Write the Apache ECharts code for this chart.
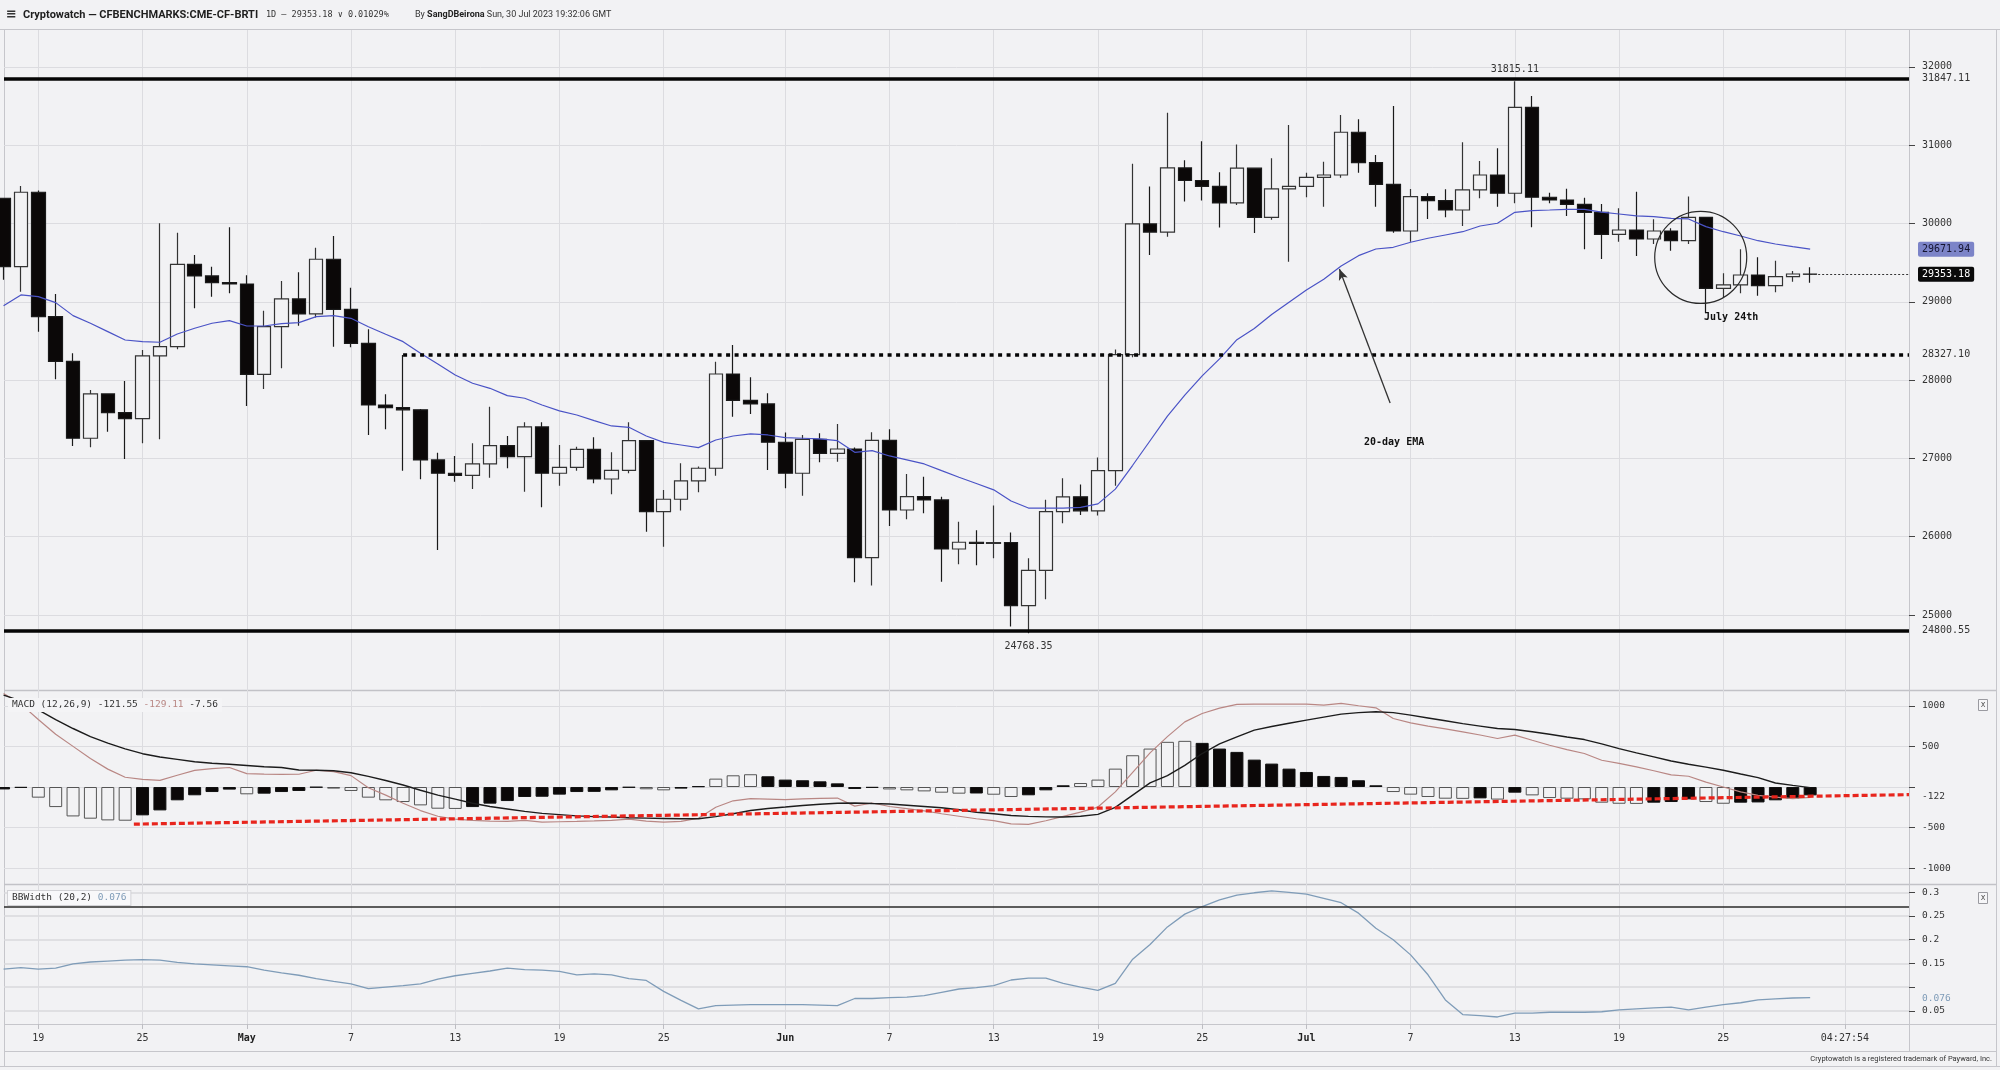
<!DOCTYPE html>
<html>
<head>
<meta charset="utf-8">
<script src="https://cdn.jsdelivr.net/npm/echarts@6/dist/echarts.min.js"></script>
<style>
html,body{margin:0;padding:0;background:#f2f2f4;overflow:hidden}
#chart{width:2000px;height:1070px}
</style>
</head>
<body>
<div id="chart"></div>
<script>
// ---------- DATA ----------
const dates = [
'04-17','04-18','04-19','04-20','04-21','04-22','04-23','04-24','04-25','04-26','04-27','04-28','04-29','04-30',
'05-01','05-02','05-03','05-04','05-05','05-06','05-07','05-08','05-09','05-10','05-11','05-12','05-13','05-14','05-15','05-16',
'05-17','05-18','05-19','05-20','05-21','05-22','05-23','05-24','05-25','05-26','05-27','05-28','05-29','05-30','05-31',
'06-01','06-02','06-03','06-04','06-05','06-06','06-07','06-08','06-09','06-10','06-11','06-12','06-13','06-14','06-15',
'06-16','06-17','06-18','06-19','06-20','06-21','06-22','06-23','06-24','06-25','06-26','06-27','06-28','06-29','06-30',
'07-01','07-02','07-03','07-04','07-05','07-06','07-07','07-08','07-09','07-10','07-11','07-12','07-13','07-14','07-15',
'07-16','07-17','07-18','07-19','07-20','07-21','07-22','07-23','07-24','07-25','07-26','07-27','07-28','07-29','07-30'];

const open = [
30322,29448,30399,28810,28240,27257,27823,27584,27508,28309,28427,29479,29330,29244,
29227,28074,28682,29036,28845,29543,28904,28470,27682,27648,27620,26980,26810,26784,26929,27162,
27022,27402,26810,26886,27116,26737,26848,27226,26320,26478,26712,26874,28078,27742,27695,
27206,26810,27244,27065,27120,25732,27230,26341,26511,26469,25843,25929,25913,25926,25120,
25569,26321,26509,26330,26844,28324,29994,29890,30710,30549,30473,30263,30706,30079,30442,
30475,30590,30619,31165,30777,30500,29904,30342,30291,30172,30428,30619,30386,31484,30335,
30300,30245,30143,29862,29917,29802,29904,29780,30079,29172,29215,29342,29206,29321,29355];
const close = [
29448,30399,28810,28240,27257,27823,27584,27508,28309,28427,29479,29330,29244,29227,
28074,28682,29036,28845,29543,28904,28470,27682,27648,27620,26980,26810,26784,26929,27162,27022,
27402,26810,26886,27116,26737,26848,27226,26320,26478,26712,26874,28078,27742,27695,27206,
26810,27244,27065,27120,25732,27230,26341,26511,26469,25843,25929,25913,25926,25120,25569,
26321,26509,26330,26844,28324,29994,29890,30710,30549,30473,30263,30706,30079,30442,30475,
30590,30619,31165,30777,30500,29904,30342,30291,30172,30428,30619,30386,31484,30335,30300,
30245,30143,29862,29917,29802,29904,29780,30079,29172,29215,29342,29206,29321,29355,29353.18];
const high = [
30330,30479,30420,29100,28342,27874,27830,27989,28385,30003,29883,29598,29448,29952,
29338,28887,29266,29377,29691,29840,29180,28649,27819,28321,27630,27073,27031,27193,27661,27287,
27462,27462,27171,27150,27270,27078,27462,27230,26597,26938,26895,28235,28449,28036,27832,
27329,27299,27321,27440,27140,27333,27372,26801,26766,26511,26192,26083,26397,26052,25725,
26473,26746,26666,27010,28390,30764,30473,31414,30808,31051,30653,31010,30715,30832,31258,
30649,30789,31386,31331,30875,31501,30441,30386,30437,31037,30798,30960,31815.11,31628,30394,
30445,30330,30249,30194,30406,30054,29939,30343,30087,29364,29671,29569,29525,29393,29440];
const low = [
29280,29129,28618,28010,27158,27142,27341,26992,27193,27244,28393,28917,29065,29109,
27670,27887,28151,28695,28800,28427,28420,27299,27372,26843,26733,25830,26703,26609,26754,26874,
26575,26375,26652,26843,26682,26542,26810,26064,25872,26333,26567,26779,27533,27567,26852,
26618,26524,26950,26958,25418,25375,26137,26222,26299,25426,25648,25635,25725,24852,24768.35,
25200,26173,26276,26271,26652,28291,29599,29832,30281,30294,29949,30236,29877,30047,29512,
30335,30215,30585,30649,30215,29883,29768,30058,30079,29968,30322,30215,30258,29952,30258,
30096,29671,29547,29768,29585,29738,29653,29738,28853,29057,29108,29078,29121,29257,29244];

const ema20 = [
28950,29087,29066,28989,28823,28726,28619,28512,28491,28483,28589,28662,28726,28759,
28691,28691,28720,28733,28810,28823,28789,28682,28585,28491,28342,28206,28065,27959,27895,27801,
27768,27682,27606,27554,27482,27414,27397,27286,27205,27171,27137,27235,27286,27312,27299,
27265,27257,27248,27226,27078,27099,27031,26980,26929,26843,26759,26680,26598,26455,26366,
26366,26366,26374,26419,26607,26912,27225,27539,27807,28054,28270,28516,28659,28838,28995,
29151,29288,29457,29589,29674,29696,29760,29811,29853,29895,29968,30003,30143,30164,30172,
30181,30181,30145,30121,30096,30087,30066,30058,29960,29895,29840,29780,29738,29704,29672];

const macdLine = [
1150,1020,830,650,500,350,220,120,95,82,145,205,225,240,
165,158,155,157,206,190,140,-10,-100,-200,-290,-360,-395,-411,-420,-424,
-411,-432,-428,-424,-418,-411,-395,-420,-432,-424,-385,-250,-170,-144,-150,
-156,-145,-140,-136,-235,-197,-240,-267,-295,-329,-360,-391,-415,-453,-461,
-415,-362,-310,-247,-60,180,420,620,802,905,970,1016,1020,1020,1020,
1020,1008,1029,1000,975,843,790,749,715,679,640,597,638,575,514,
460,412,329,290,247,200,150,132,60,0,-60,-103,-125,-144,-127];
const signalLine = [
1130,1060,950,830,720,620,540,470,410,370,340,310,292,280,
265,250,240,210,206,200,175,130,80,25,-40,-100,-150,-200,-240,-270,
-300,-325,-340,-355,-365,-370,-378,-383,-387,-391,-391,-365,-330,-290,-265,
-247,-228,-212,-200,-197,-204,-210,-225,-240,-255,-280,-310,-330,-350,-362,
-368,-370,-360,-337,-250,-100,50,140,266,412,530,617,700,745,785,
823,860,897,915,926,915,885,850,815,780,750,720,708,680,650,
615,584,530,473,420,371,320,280,245,206,160,115,49,20,-8];
const macdHist = [
-30,-10,-131,-247,-362,-390,-411,-415,-349,-288,-164,-102,-62,-32,
-90,-82,-62,-49,-5,-20,-49,-131,-164,-185,-226,-267,-270,-247,-205,-173,
-123,-120,-94,-62,-60,-41,-7,-28,-41,-20,9,103,144,157,132,
91,83,70,45,-25,-10,-30,-41,-54,-70,-82,-80,-95,-123,-102,
-41,21,49,91,226,391,473,556,568,543,473,432,337,288,226,
185,136,124,83,21,-62,-94,-123,-144,-146,-140,-155,-70,-103,-136,
-144,-152,-193,-206,-208,-193,-185,-152,-185,-206,-193,-190,-164,-144,-103];

const bbWidth = [
0.138,0.141,0.138,0.140,0.149,0.153,0.155,0.157,0.158,0.157,0.152,0.149,0.147,0.145,
0.143,0.136,0.130,0.125,0.118,0.112,0.107,0.097,0.100,0.103,0.107,0.117,0.124,0.129,0.134,0.140,
0.137,0.136,0.133,0.126,0.128,0.126,0.118,0.114,0.091,0.072,0.054,0.061,0.062,0.063,0.063,
0.063,0.063,0.062,0.061,0.076,0.076,0.078,0.079,0.082,0.089,0.096,0.099,0.103,0.115,0.119,
0.119,0.108,0.100,0.093,0.108,0.159,0.190,0.227,0.254,0.270,0.284,0.294,0.299,0.303,0.300,
0.296,0.287,0.278,0.256,0.224,0.200,0.168,0.126,0.073,0.042,0.040,0.037,0.045,0.045,0.047,
0.047,0.047,0.048,0.052,0.054,0.056,0.058,0.052,0.058,0.063,0.067,0.073,0.075,0.077,0.078];

const xTickDates  = ['04-19','04-25','05-01','05-07','05-13','05-19','05-25','06-01','06-07','06-13','06-19','06-25','07-01','07-07','07-13','07-19','07-25','08-01'];
const xTickLabels = ['19','25','May','7','13','19','25','Jun','7','13','19','25','Jul','7','13','19','25','04:27:54'];

const priceTicks = [25000,26000,27000,28000,29000,30000,31000,32000];
const resistance = 31847.11, breakout = 28327.10, support = 24800.55;
const lastPrice = 29353.18, lastEma = 29671.94;
const highMark = {date:'07-13', value:31815.11};
const lowMark  = {date:'06-15', value:24768.35};
const breakoutStart = '05-10';
const currentDate = '07-30';

const macdTicks = [-1000,-500,0,500,1000];
const macdLabels = [-1000,-500,500,1000];
const macdLast = -121.55;
const macdTrend = [[5.5,-457],[107.69,-94]];   // [day offset, value]

const bbTicks = [0.05,0.1,0.15,0.2,0.25,0.3];
const bbLabels = [0.05,0.15,0.2,0.25,0.3];
const bbLast = 0.076, bbRef = 0.273;

// annotations in data coordinates: [day offset, price]
const circleAt = [95.7, 29566];
const julyTextAt = [97.45, 28806];
const emaTextAt = [78.05, 27202];
const arrowFrom = [77.82, 27708], arrowTo = [74.9, 29419];

// ---------- BUILD ----------
const day = s => (Date.UTC(2023, +s.slice(0,2)-1, +s.slice(3,5)) - Date.UTC(2023,3,19)) / 864e5;
const X_MIN = -1.975, X_MAX = 107.69;
const MONO = 'DejaVu Sans Mono';
const GRID_C = '#dcdce0';
const BG = '#f2f2f4';

const xs = dates.map(day);
const candleData = xs.map((x,i)=>[x, open[i], close[i], low[i], high[i]]);
const pair = arr => xs.map((x,i)=>[x, arr[i]]);
const histData = macdHist.map((h,i)=>{
  const filled = i===0 || Math.abs(h) < Math.abs(macdHist[i-1]);
  return {value:[xs[i], h], itemStyle:{color: filled ? '#0b0808' : BG, borderColor: filled ? '#111' : '#555', borderWidth:1}};
});

const labelText = {};
xTickDates.forEach((d,i)=>{ labelText[day(d)] = xTickLabels[i]; });
const tickDays = xTickDates.map(day);

function makeX(gi, show){
  return {
    type:'value', gridIndex:gi, min:X_MIN, max:X_MAX,
    axisLine:{show:false, onZero:false},
    axisTick:{show:show, customValues:tickDays, length:5, lineStyle:{color:'#bdbdc2'}},
    axisLabel:{show:show, customValues:tickDays, margin:9, fontFamily:MONO, fontSize:10, color:'#333',
      formatter:v=>{const t=labelText[v]; if(t==null) return ''; return /^[A-Z]/.test(t)?'{b|'+t+'}':t;},
      rich:{b:{fontWeight:'bold', fontFamily:MONO, fontSize:10, color:'#222'}}},
    splitLine:{show:true, lineStyle:{color:GRID_C, width:1}}
  };
}
const yLine = {show:true, onZero:false, lineStyle:{color:'#c6c6cb'}};

const option = {
  animation:false,
  backgroundColor:BG,
  textStyle:{fontFamily:MONO},
  grid:[
    {left:4, top:30, width:1905, height:660},
    {left:4, top:690, width:1905, height:194},
    {left:4, top:884, width:1905, height:140}
  ],
  xAxis:[makeX(0,false), makeX(1,false), makeX(2,true)],
  yAxis:[
    {type:'value', gridIndex:0, position:'right', min:24042, max:32471, axisLine:yLine,
      axisTick:{show:true, customValues:priceTicks, length:6, lineStyle:{color:'#444'}},
      axisLabel:{customValues:priceTicks.concat([support, breakout, resistance]), margin:13, fontFamily:MONO, fontSize:10, color:'#333',
        formatter:v=> Number.isInteger(v) ? String(v) : v.toFixed(2)},
      splitLine:{show:true, lineStyle:{color:GRID_C}}},
    {type:'value', gridIndex:1, position:'right', min:-1194, max:1194, axisLine:yLine,
      axisTick:{show:true, customValues:macdTicks, length:6, lineStyle:{color:'#444'}},
      axisLabel:{customValues:macdLabels.concat([macdLast]), margin:13, fontFamily:MONO, fontSize:9.5, color:'#333',
        formatter:v=> String(Math.round(v))},
      splitLine:{show:true, lineStyle:{color:GRID_C}}},
    {type:'value', gridIndex:2, position:'right', min:0.0222, max:0.3175, axisLine:yLine,
      axisTick:{show:true, customValues:bbTicks, length:6, lineStyle:{color:'#444'}},
      axisLabel:{customValues:bbLabels.concat([bbLast]), margin:13, fontFamily:MONO, fontSize:9.5, color:'#333',
        formatter:v=> v===bbLast ? '{c|'+v+'}' : String(v),
        rich:{c:{color:'#7f9cb8', fontFamily:MONO, fontSize:9.5}}},
      splitLine:{show:true, lineStyle:{color:'#d8d8dd', width:1.5}}}
  ],
  series:[
    {
      type:'candlestick', xAxisIndex:0, yAxisIndex:0, data:candleData, barWidth:14,
      itemStyle:{color:BG, color0:'#0b0808', borderColor:'#333', borderColor0:'#1a1a1a', borderWidth:1.2},
      markLine:{
        silent:true, animation:false, symbol:['none','none'], label:{show:false},
        data:[
          {yAxis:resistance, lineStyle:{color:'#050505', width:3.5, type:'solid'}},
          {yAxis:support, lineStyle:{color:'#050505', width:3.5, type:'solid'}},
          [{coord:[day(breakoutStart), breakout], lineStyle:{color:'#050505', width:3.5, type:[4,4.5]}}, {coord:[X_MAX, breakout]}],
          [{coord:[day(currentDate), lastPrice], lineStyle:{color:'#333', width:1, type:[2,2]},
            label:{show:true, position:'end', distance:9, formatter:lastPrice.toFixed(2), color:'#fff', backgroundColor:'#0a0a0a',
              padding:[3,4,2,4], borderRadius:2, fontFamily:MONO, fontSize:10}}, {coord:[X_MAX, lastPrice]}]
        ]
      },
      markPoint:{
        silent:true, animation:false,
        data:[
          {coord:[day(highMark.date), highMark.value], symbol:'circle', symbolSize:1, itemStyle:{color:'rgba(0,0,0,0)'},
            label:{show:true, position:'top', distance:6, formatter:highMark.value.toFixed(2), color:'#333', fontFamily:MONO, fontSize:10}},
          {coord:[day(lowMark.date), lowMark.value], symbol:'circle', symbolSize:1, itemStyle:{color:'rgba(0,0,0,0)'},
            label:{show:true, position:'bottom', distance:8, formatter:lowMark.value.toFixed(2), color:'#333', fontFamily:MONO, fontSize:10}},
          {coord:circleAt, symbol:'circle', symbolSize:92, itemStyle:{color:'rgba(0,0,0,0)', borderColor:'#2a2a2a', borderWidth:1.2}, label:{show:false}},
          {coord:julyTextAt, symbol:'circle', symbolSize:1, itemStyle:{color:'rgba(0,0,0,0)'},
            label:{show:true, position:'inside', formatter:'July 24th', color:'#111', fontFamily:MONO, fontSize:10, fontWeight:'bold'}},
          {coord:emaTextAt, symbol:'circle', symbolSize:1, itemStyle:{color:'rgba(0,0,0,0)'},
            label:{show:true, position:'inside', formatter:'20-day EMA', color:'#111', fontFamily:MONO, fontSize:10, fontWeight:'bold'}}
        ]
      }
    },
    {
      type:'line', xAxisIndex:0, yAxisIndex:0, data:pair(ema20), symbol:'none',
      lineStyle:{color:'#4a53c6', width:1.2}, z:3,
      markLine:{
        silent:true, animation:false, symbol:['none','none'], label:{show:false},
        data:[
          [{coord:[X_MAX-0.5, lastEma], lineStyle:{color:'#4a53c6', width:0},
            label:{show:true, position:'end', distance:9, formatter:lastEma.toFixed(2), color:'#141430', backgroundColor:'#7c84c8',
              padding:[3,4,2,4], borderRadius:2, fontFamily:MONO, fontSize:10}}, {coord:[X_MAX, lastEma]}],
          [{coord:arrowFrom, symbol:'none', lineStyle:{color:'#333', width:1.3, type:'solid'}}, {coord:arrowTo, symbol:'arrow', symbolSize:[7,11]}]
        ]
      }
    },
    {
      type:'bar', xAxisIndex:1, yAxisIndex:1, data:histData, barWidth:13
    },
    {
      type:'line', xAxisIndex:1, yAxisIndex:1, data:pair(macdLine), symbol:'none',
      lineStyle:{color:'#b98784', width:1.2}
    },
    {
      type:'line', xAxisIndex:1, yAxisIndex:1, data:pair(signalLine), symbol:'none',
      lineStyle:{color:'#1c1c1c', width:1.4},
      markLine:{
        silent:true, animation:false, symbol:['none','none'], label:{show:false}, z:10,
        data:[[{coord:macdTrend[0], lineStyle:{color:'#e8251d', width:3.2, type:[6,3]}}, {coord:macdTrend[1]}]]
      }
    },
    {
      type:'line', xAxisIndex:2, yAxisIndex:2, data:pair(bbWidth), symbol:'none',
      lineStyle:{color:'#7f9cb8', width:1.3},
      markLine:{
        silent:true, animation:false, symbol:['none','none'], label:{show:false},
        data:[{yAxis:bbRef, lineStyle:{color:'#2a2a2a', width:1.5, type:'solid'}}]
      }
    }
  ],
  graphic:[
    // frame
    {type:'line', shape:{x1:0,y1:29.5,x2:2000,y2:29.5}, style:{stroke:'#c6c6cb', lineWidth:1}},
    {type:'line', shape:{x1:4.5,y1:30,x2:4.5,y2:1066}, style:{stroke:'#c6c6cb', lineWidth:1}},
    {type:'line', shape:{x1:1996.5,y1:30,x2:1996.5,y2:1066}, style:{stroke:'#c6c6cb', lineWidth:1}},
    {type:'line', shape:{x1:1909.5,y1:1024,x2:1909.5,y2:1051}, style:{stroke:'#c6c6cb', lineWidth:1}},
    {type:'line', shape:{x1:4,y1:690.5,x2:1996,y2:690.5}, style:{stroke:'#c2c2c7', lineWidth:1.5}},
    {type:'line', shape:{x1:4,y1:884.5,x2:1996,y2:884.5}, style:{stroke:'#c2c2c7', lineWidth:1.5}},
    {type:'line', shape:{x1:4,y1:1024.5,x2:1996,y2:1024.5}, style:{stroke:'#c6c6cb', lineWidth:1}},
    {type:'line', shape:{x1:4,y1:1051.5,x2:1996,y2:1051.5}, style:{stroke:'#c6c6cb', lineWidth:1}},
    {type:'line', shape:{x1:0,y1:1066.5,x2:2000,y2:1066.5}, style:{stroke:'#c6c6cb', lineWidth:1}},
    // header
    {type:'text', x:6, y:15, style:{text:'≡', font:'bold 13px "DejaVu Sans"', fill:'#333', verticalAlign:'middle'}},
    {type:'text', x:23, y:15, style:{text:'Cryptowatch — CFBENCHMARKS:CME-CF-BRTI', font:'bold 11px Roboto', fill:'#1e1e1e', verticalAlign:'middle'}},
    {type:'text', x:266, y:15, style:{text:'1D — 29353.18 ∨ 0.01029%', font:'8.5px "DejaVu Sans Mono"', fill:'#333', verticalAlign:'middle'}},
    {type:'text', x:415, y:15, style:{text:'{a|By }{b|SangDBeirona}{a| Sun, 30 Jul 2023 19:32:06 GMT}', verticalAlign:'middle',
      rich:{a:{fontFamily:'Roboto', fontSize:9, fill:'#333'}, b:{fontFamily:'Roboto', fontSize:9, fontWeight:'bold', fill:'#222'}}}},
    // indicator labels
    {type:'text', x:8, y:705, z:20, style:{text:'{a|MACD (12,26,9) -121.55 }{r|-129.11}{a| -7.56}', verticalAlign:'middle',
      backgroundColor:'#f4f4f6', padding:[2,4,2,4],
      rich:{a:{fontFamily:MONO, fontSize:9.5, fill:'#333'}, r:{fontFamily:MONO, fontSize:9.5, fill:'#b98784'}}}},
    {type:'text', x:8, y:898, z:20, style:{text:'{a|BBWidth (20,2) }{c|0.076}', verticalAlign:'middle',
      backgroundColor:'#f8f8fa', borderColor:'#d2d2d6', borderWidth:1, padding:[2,4,2,4],
      rich:{a:{fontFamily:MONO, fontSize:9.5, fill:'#333'}, c:{fontFamily:MONO, fontSize:9.5, fill:'#7f9cb8'}}}},
    // close boxes
    {type:'rect', shape:{x:1978.5,y:699.5,width:9,height:11}, style:{fill:'#f6f6f8', stroke:'#9a9aa0', lineWidth:1}},
    {type:'text', x:1983, y:705, style:{text:'x', font:'8px "DejaVu Sans"', fill:'#555', align:'center', verticalAlign:'middle'}},
    {type:'rect', shape:{x:1978.5,y:892.5,width:9,height:11}, style:{fill:'#f6f6f8', stroke:'#9a9aa0', lineWidth:1}},
    {type:'text', x:1983, y:898, style:{text:'x', font:'8px "DejaVu Sans"', fill:'#555', align:'center', verticalAlign:'middle'}},
    // footer
    {type:'text', x:1992, y:1059, style:{text:'Cryptowatch is a registered trademark of Payward, Inc.', font:'7.5px "Liberation Sans Narrow", Roboto', fill:'#333', align:'right', verticalAlign:'middle'}}
  ]
};

const chart = echarts.init(document.getElementById('chart'), null, {width:2000, height:1070});
chart.setOption(option);
</script>
</body>
</html>
